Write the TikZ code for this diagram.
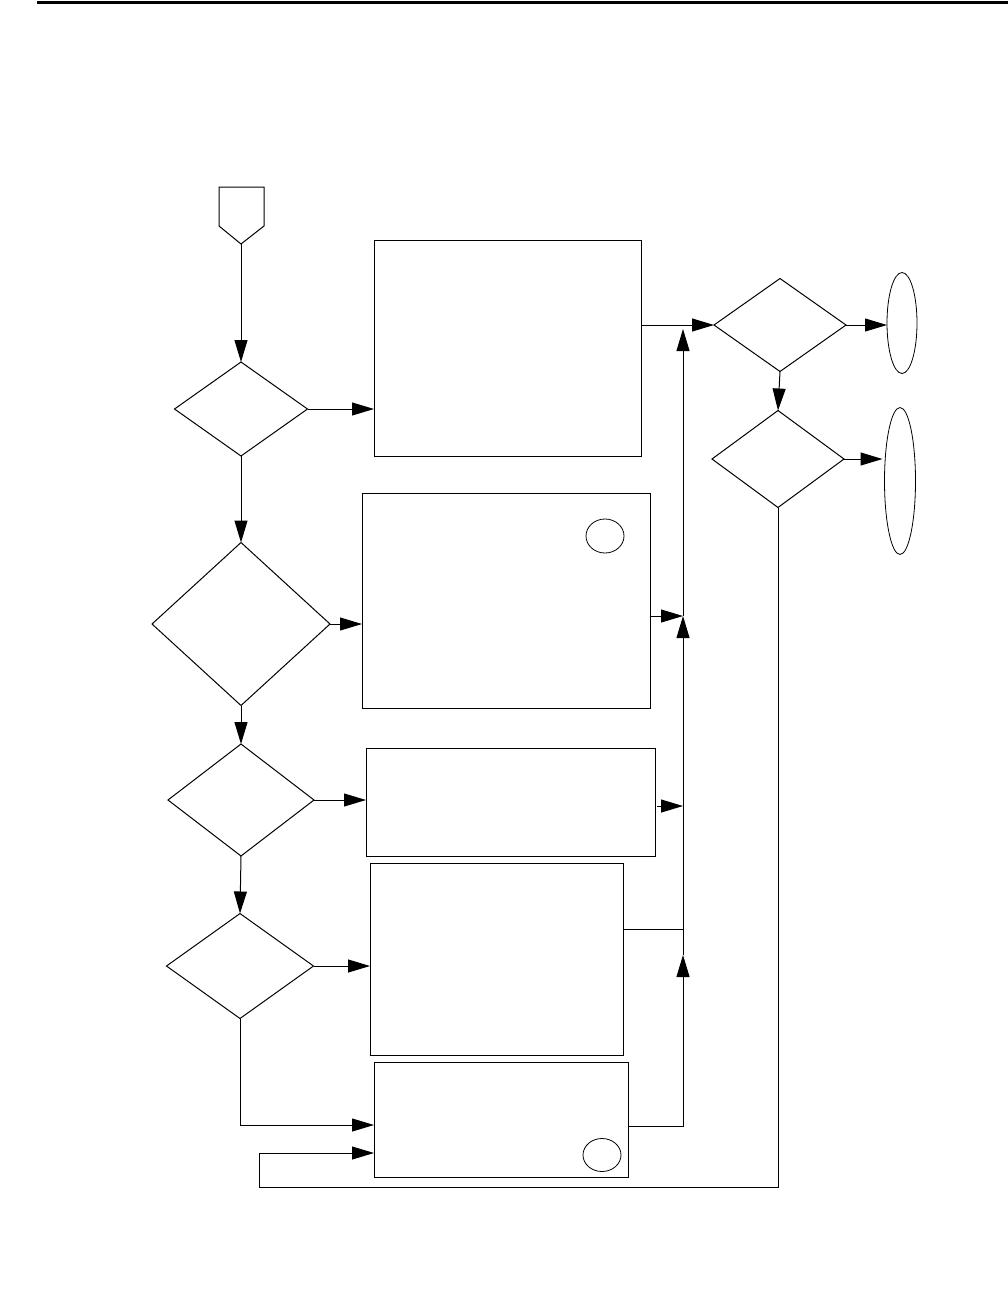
\documentclass[tikz,border=0pt]{standalone}
\usetikzlibrary{shapes.geometric,arrows.meta}
\begin{document}
\begin{tikzpicture}[x=1pt,y=-1pt,line width=1pt,
  dia/.style 2 args={diamond,draw,inner sep=0pt,outer sep=0pt,minimum width=#1,minimum height=#2},
  box/.style 2 args={rectangle,draw,inner sep=0pt,outer sep=0pt,minimum width=#1,minimum height=#2},
  ell/.style 2 args={ellipse,draw,line width=0.8pt,inner sep=0pt,outer sep=0pt,minimum width=#1,minimum height=#2},
  arr/.style={-{Triangle[length=22pt,width=13pt]}}]
\useasboundingbox (0,0) rectangle (1008,1296);
% header rule
\draw[line width=3pt] (37,2) coordinate (hl) -- (1008,2) coordinate (hr);
% off-page connector
\draw (219,187) -- (264,187) -- (264,226) -- (241,244) -- (219,226) -- cycle;
\coordinate (p) at (241,244);
% decisions
\node[dia={133}{94}] (d1) at (241,409) {};
\node[dia={178}{163}] (d2) at (241,624) {};
\node[dia={146}{112}] (d3) at (241,800) {};
\node[dia={147}{105}] (d4) at (240,966) {};
\node[dia={132}{93}] (d5) at (780,325) {};
\node[dia={132}{97}] (d6) at (778,459) {};
% boxes
\node[box={267}{216}] (b1) at (507.5,348) {};
\node[box={288}{215}] (b2) at (506,600.5) {};
\node[box={289}{108}] (b3) at (510.5,802) {};
\node[box={253}{192}] (b4) at (496.5,959) {};
\node[box={254}{115}] (b5) at (501,1119.5) {};
% small circles
\node[ell={38}{34}] (c1) at (605,536) {};
\node[ell={38}{33}] (c2) at (602,1155) {};
% terminals
\node[ell={30}{101}] (e1) at (902,323) {};
\node[ell={31}{147}] (e2) at (900,481) {};
% coordinates
\coordinate (in5a) at (374,1125);
\coordinate (in5b) at (374,1153);
\coordinate (jtop) at (683,329);
\coordinate (j2) at (683,616);
\coordinate (j3) at (683,806);
\coordinate (s3) at (657,806);
\coordinate (j4) at (683,929);
\coordinate (j5) at (683,955);
\coordinate (j6) at (683,1126);
\coordinate (fb1) at (778,1187);
\coordinate (fb2) at (259,1187);
\coordinate (fb3) at (259,1153);
% left chain
\draw[arr] (p) -- (d1.north);
\draw[arr] (d1.east) -- (b1.west |- d1.east);
\draw[arr] (d1.south) -- (d2.north);
\draw[arr] (d2.east) -- (b2.west |- d2.east);
\draw[arr] (d2.south) -- (d3.north);
\draw[arr] (d3.east) -- (b3.west |- d3.east);
\draw[arr] (d3.south) -- (d4.north);
\draw[arr] (d4.east) -- (b4.west |- d4.east);
\draw[arr] (d4.south) |- (in5a);
% bus
\draw[arr] (b1.east |- d5.west) -- (d5.west);
\draw[arr] (j2) -- (jtop);
\draw[arr] (b2.east |- j2) -- (j2);
\draw[arr] (j5) -- (j2);
\draw[arr] (s3) -- (j3);
\draw (b4.east |- j4) -- (j4);
\draw[arr] (b5.east |- j6) -- (j6) -- (j5);
% right side
\draw[arr] (d5.east) -- (e1.west |- d5.east);
\draw[arr] (d5.south) -- (d6.north);
\draw[arr] (d6.east) -- ([xshift=-2pt]e2.west |- d6.east);
% feedback
\draw[arr] (d6.south) -- (fb1) -- (fb2) -- (fb3) -- (in5b);
\end{tikzpicture}
\end{document}
